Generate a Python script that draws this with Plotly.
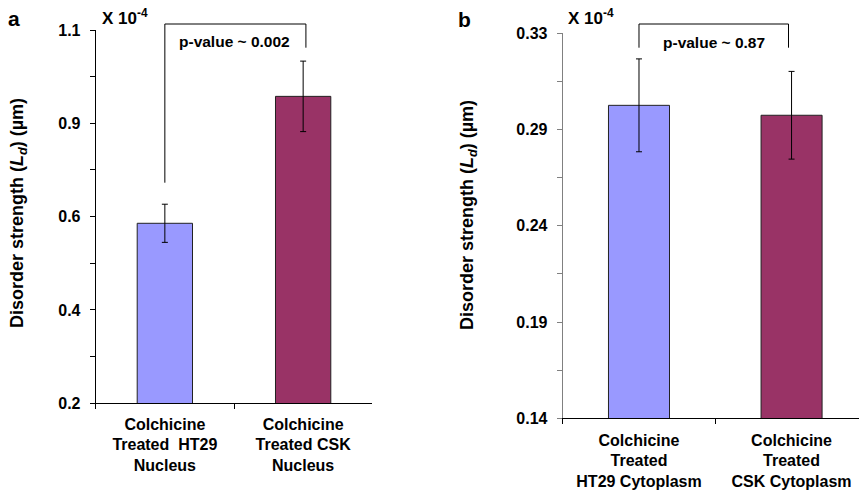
import plotly.graph_objects as go

# ---- data ----
nucleus_cats = ["Colchicine<br>Treated  HT29<br>Nucleus", "Colchicine<br>Treated CSK<br>Nucleus"]
nucleus_vals = [0.634, 0.940]
nucleus_err = [0.046, 0.085]
nucleus_tickvals = [0.2, 0.3125, 0.425, 0.5375, 0.65, 0.7625, 0.875, 0.9875, 1.1]
nucleus_ticktext = ["0.2", "", "0.4", "", "0.6", "", "0.9", "", "1.1"]
nucleus_p = "p-value ~ 0.002"

cyto_cats = ["Colchicine<br>Treated<br>HT29 Cytoplasm", "Colchicine<br>Treated<br>CSK Cytoplasm"]
cyto_vals = [0.2977, 0.2927]
cyto_err = [0.0234, 0.0221]
cyto_tickvals = [0.14, 0.16425, 0.1885, 0.21275, 0.237, 0.26125, 0.2855, 0.30975, 0.334]
cyto_ticktext = ["0.14", "", "0.19", "", "0.24", "", "0.29", "", "0.33"]
cyto_p = "p-value ~ 0.87"

colors = ["#9999FF", "#993366"]

W, H = 859, 491
def px(x):
    return x / W
def py(y):
    return (H - y) / H

FONT = "Liberation Sans, Arial, sans-serif"

fig = go.Figure()
fig.add_trace(go.Bar(
    x=nucleus_cats, y=nucleus_vals, xaxis="x", yaxis="y",
    marker=dict(color=colors, line=dict(color="#222222", width=1)),
    error_y=dict(type="data", array=nucleus_err, color="black", thickness=1, width=3),
    showlegend=False,
))
fig.add_trace(go.Bar(
    x=cyto_cats, y=cyto_vals, xaxis="x2", yaxis="y2",
    marker=dict(color=colors, line=dict(color="#222222", width=1)),
    error_y=dict(type="data", array=cyto_err, color="black", thickness=1, width=3),
    showlegend=False,
))

tickfont = dict(family=FONT, size=16, color="black", weight="bold")
xtickfont = dict(family=FONT, size=16, color="black", weight="bold")

fig.update_layout(
    width=W, height=H,
    margin=dict(l=0, r=0, t=0, b=0, autoexpand=False),
    paper_bgcolor="white", plot_bgcolor="white",
    bargap=0.6,
    xaxis=dict(domain=[px(95.7), px(372.3)], anchor="y", type="category",
               range=[-0.5, 1.5], showline=True, linecolor="black", linewidth=1,
               ticks="outside", tickson="boundaries", ticklen=5, tickcolor="black",
               tickfont=xtickfont, showgrid=False, zeroline=False, ticklabelstandoff=6,
               automargin=False),
    yaxis=dict(domain=[py(403.3), py(30)], anchor="x", range=[0.2, 1.1],
               tickmode="array", tickvals=nucleus_tickvals, ticktext=nucleus_ticktext,
               showline=True, linecolor="black", linewidth=1,
               ticks="outside", ticklen=5, tickcolor="black",
               tickfont=tickfont, showgrid=False, zeroline=False, ticklabelstandoff=6,
               automargin=False),
    xaxis2=dict(domain=[px(562.7), 1.0], anchor="y2", type="category",
                range=[-0.5, 1.442], showline=True, linecolor="black", linewidth=1,
                ticks="outside", tickson="boundaries", ticklen=5, tickcolor="black",
                tickfont=xtickfont, showgrid=False, zeroline=False, ticklabelstandoff=7,
                automargin=False),
    yaxis2=dict(domain=[py(418.3), py(33.3)], anchor="x2", range=[0.14, 0.334],
                tickmode="array", tickvals=cyto_tickvals, ticktext=cyto_ticktext,
                showline=True, linecolor="#808080", linewidth=1,
                ticks="outside", ticklen=5, tickcolor="#808080",
                tickfont=tickfont, showgrid=False, zeroline=False, ticklabelstandoff=6,
                automargin=False),
)

ann_font = dict(family=FONT, size=15.5, color="black", weight="bold")
title_font = dict(family=FONT, size=17, color="black", weight="bold")
ytitle_font = dict(family=FONT, size=18, color="black", weight="bold")
ytitle = "Disorder strength (<i>L<sub>d</sub></i>) (µm)"

annotations = [
    dict(text="a", x=px(6), y=py(18), xanchor="left", yanchor="middle",
         font=dict(family=FONT, size=21, color="black", weight="bold")),
    dict(text="b", x=px(456), y=py(20), xanchor="left", yanchor="middle",
         font=dict(family=FONT, size=21, color="black", weight="bold")),
    dict(text="X 10<sup>-4</sup>", x=px(100), y=py(17), xanchor="left", yanchor="middle", font=title_font),
    dict(text="X 10<sup>-4</sup>", x=px(566), y=py(17), xanchor="left", yanchor="middle", font=title_font),
    dict(text=nucleus_p, x=0.5, xref="x", y=py(41), xanchor="center", yanchor="middle", font=ann_font),
    dict(text=cyto_p, x=0.49, xref="x2", y=py(43), xanchor="center", yanchor="middle", font=ann_font),
    dict(text=ytitle, x=px(18.5), y=py(213.5), textangle=-90, xanchor="center", yanchor="middle", font=ytitle_font),
    dict(text=ytitle, x=px(468.5), y=py(215.5), textangle=-90, xanchor="center", yanchor="middle", font=ytitle_font),
]
for a in annotations:
    a.setdefault("xref", "paper")
    a["yref"] = "paper"
    a["showarrow"] = False
fig.update_layout(annotations=annotations)

line = dict(color="black", width=1)
shapes = [
    # bracket a
    dict(type="line", xref="x", yref="paper", x0=0, x1=0, y0=py(182.7), y1=py(24), line=line),
    dict(type="line", xref="x", yref="paper", x0=0, x1=1.02, y0=py(24), y1=py(24), line=line),
    dict(type="line", xref="x", yref="paper", x0=1.02, x1=1.02, y0=py(24), y1=py(47.7), line=line),
    # bracket b
    dict(type="line", xref="x2", yref="paper", x0=0, x1=0, y0=py(47.7), y1=py(24), line=line),
    dict(type="line", xref="x2", yref="paper", x0=0, x1=0.98, y0=py(24), y1=py(24), line=line),
    dict(type="line", xref="x2", yref="paper", x0=0.98, x1=0.98, y0=py(24), y1=py(47.7), line=line),
]
fig.update_layout(shapes=shapes)

fig.write_html(
    "out.html",
    config={"displayModeBar": False},
    post_script="document.body.style.margin='0';document.body.style.overflow='hidden';"
                "document.documentElement.style.overflow='hidden';",
)
